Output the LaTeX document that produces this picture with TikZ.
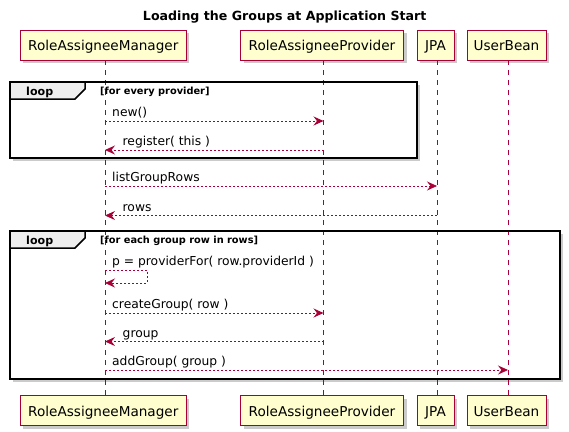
\documentclass[tikz,border=0pt]{standalone}
\usepackage{fontspec}
\setmainfont{DejaVu Sans}
\usetikzlibrary{arrows.meta,shadows}
\definecolor{plred}{HTML}{A80036}
\definecolor{plfill}{HTML}{FEFECE}
\definecolor{pltab}{HTML}{EEEEEE}
\begin{document}
\begin{tikzpicture}[x=1pt,y=-1pt,
  participant/.style={draw=plred, fill=plfill, line width=0.9pt, inner sep=0pt,
    minimum height=30pt, text height=11pt, text depth=0pt,
    font=\fontsize{13.6}{16}\selectfont,
    drop shadow={shadow xshift=3pt, shadow yshift=-3pt, fill=black!45, opacity=0.45}},
  lifeline/.style={draw=plred, line width=0.8pt, dash pattern=on 5pt off 5pt},
  msg/.style={draw=plred, line width=0.8pt, dash pattern=on 2pt off 2pt,
    -{Stealth[length=10pt,width=9pt,inset=3.5pt]}},
  msglabel/.style={anchor=base west, inner sep=0pt, font=\fontsize{12.3}{15}\selectfont},
  frameline/.style={draw=black, line width=1.5pt},
  frameshadow/.style={fill=black!45, opacity=0.45},
  looplabel/.style={anchor=base west, inner sep=0pt, font=\fontsize{11.1}{13}\selectfont\bfseries},
  guardlabel/.style={anchor=base west, inner sep=0pt, font=\fontsize{9.8}{12}\selectfont\bfseries}
]
\useasboundingbox (0,0) rectangle (569,431);
\fill[white] (0,0) rectangle (569,431);

% title
\node[anchor=base, inner sep=0pt, font=\fontsize{12.6}{15}\selectfont\bfseries] (title) at (284.7,20.5) {Loading the Groups at Application Start};

% loop frame shadows and fills
\fill[frameshadow] (13,85) rectangle (420,161);
\fill[white] (10,82) rectangle (417,158);
\fill[frameshadow] (13,234) rectangle (563,382);
\fill[white] (10,231) rectangle (560,379);

% participants
\node[participant, minimum width=166pt] (p1t) at (103.3,45) {RoleAssigneeManager};
\node[participant, minimum width=163pt] (p2t) at (322,45) {RoleAssigneeProvider};
\node[participant, minimum width=37pt] (p3t) at (435.5,45) {JPA};
\node[participant, minimum width=79pt] (p4t) at (506.5,45) {UserBean};
\node[participant, minimum width=166pt] (p1b) at (103.3,410.5) {RoleAssigneeManager};
\node[participant, minimum width=163pt] (p2b) at (322,410.5) {RoleAssigneeProvider};
\node[participant, minimum width=37pt] (p3b) at (435.5,410.5) {JPA};
\node[participant, minimum width=79pt] (p4b) at (506.5,410.5) {UserBean};

% lifelines
\draw[lifeline] ([xshift=1.7pt]p1t.south) -- ([xshift=1.7pt]p1b.north);
\draw[lifeline] ([xshift=1.5pt]p2t.south) -- ([xshift=1.5pt]p2b.north);
\draw[lifeline] ([xshift=1.5pt]p3t.south) -- ([xshift=1.5pt]p3b.north);
\draw[lifeline] ([xshift=1.5pt]p4t.south) -- ([xshift=1.5pt]p4b.north);

% loop 1
\draw[frameline] (10,82) rectangle (417,158);
\draw[frameline, fill=pltab] (10,82) -- (85,82) -- (85,89) -- (75,99) -- (10,99) -- cycle;
\node[looplabel] (l1) at (26,95) {loop};
\node[guardlabel] (g1) at (100,94.5) {[for every provider]};

% loop 2
\draw[frameline] (10,231) rectangle (560,379);
\draw[frameline, fill=pltab] (10,231) -- (85,231) -- (85,238) -- (75,248) -- (10,248) -- cycle;
\node[looplabel] (l2) at (26,244) {loop};
\node[guardlabel] (g2) at (100,243.5) {[for each group row in rows]};

% message end points
\coordinate (a1) at (105,121);   \coordinate (b1) at (323.5,121);
\coordinate (a2) at (105,150);   \coordinate (b2) at (323.5,150);
\coordinate (a3) at (105,186);   \coordinate (b3) at (437,186);
\coordinate (a4) at (105,215.5); \coordinate (b4) at (437,215.5);
\coordinate (a5) at (105,270);   \coordinate (s5a) at (147,270);
\coordinate (s5b) at (147,283);  \coordinate (b5) at (105,283);
\coordinate (a6) at (105,313);   \coordinate (b6) at (323.5,313);
\coordinate (a7) at (105,341.5); \coordinate (b7) at (323.5,341.5);
\coordinate (a8) at (105,370);   \coordinate (b8) at (508,370);

% messages
\draw[msg] (a1) -- (b1);
\node[msglabel] (t1) at (112,116.5) {new()};
\draw[msg] (b2) -- (a2);
\node[msglabel] (t2) at (122.5,145.5) {register( this )};
\draw[msg] (a3) -- (b3);
\node[msglabel] (t3) at (112,181.5) {listGroupRows};
\draw[msg] (b4) -- (a4);
\node[msglabel] (t4) at (122.5,211) {rows};
\draw[msg] (a5) -- (s5a) -- (s5b) -- (b5);
\node[msglabel] (t5) at (112,265.5) {p = providerFor( row.providerId )};
\draw[msg] (a6) -- (b6);
\node[msglabel] (t6) at (112,308.5) {createGroup( row )};
\draw[msg] (b7) -- (a7);
\node[msglabel] (t7) at (122.5,337) {group};
\draw[msg] (a8) -- (b8);
\node[msglabel] (t8) at (112,365.5) {addGroup( group )};
\end{tikzpicture}
\end{document}
